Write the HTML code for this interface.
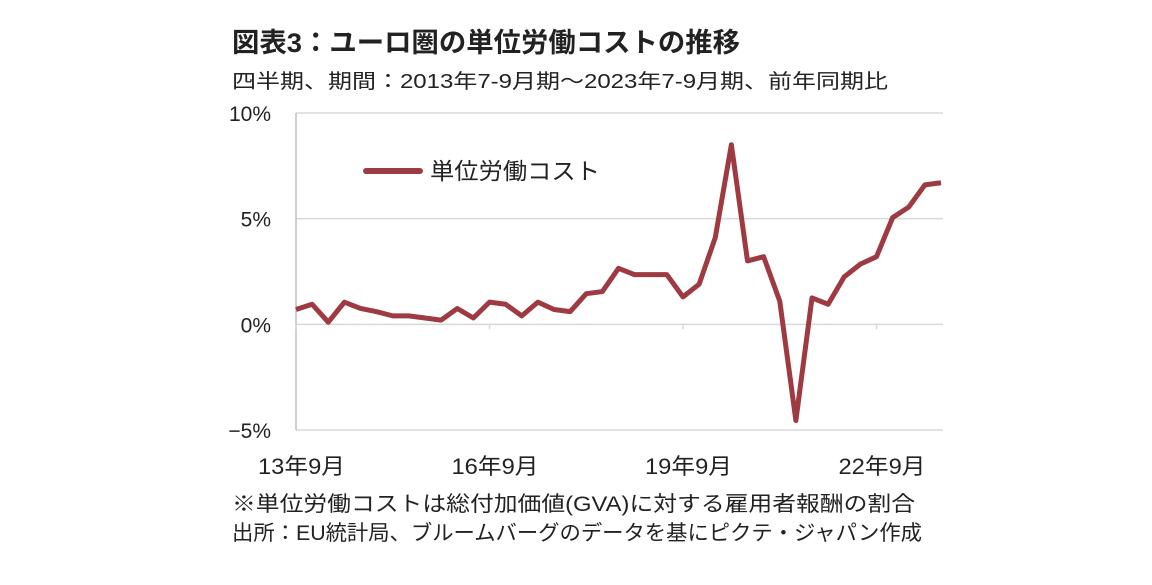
<!DOCTYPE html>
<html><head><meta charset="utf-8"><style>
body{margin:0;background:#fff;}
svg text{font-family:"Liberation Sans","Noto Sans CJK JP",sans-serif;fill:#222;}
</style></head><body>
<svg width="1152" height="580" viewBox="0 0 1152 580" xmlns="http://www.w3.org/2000/svg">
<text x="232" y="52" font-size="27" font-weight="bold" textLength="508" lengthAdjust="spacingAndGlyphs">図表3：ユーロ圏の単位労働コストの推移</text>
<text x="232" y="88" font-size="20" textLength="656" lengthAdjust="spacingAndGlyphs">四半期、期間：2013年7-9月期～2023年7-9月期、前年同期比</text>
<g id="grid"></g>
<g id="yaxis"></g>
<g id="xaxis"></g>
<polyline id="line" fill="none" stroke="#9e3a42" stroke-width="5" stroke-linejoin="round"/>
<line x1="366" y1="171" x2="420" y2="171" stroke="#9e3a42" stroke-width="6" stroke-linecap="round"/>
<text x="430" y="179" font-size="23" textLength="170" lengthAdjust="spacingAndGlyphs">単位労働コスト</text>
<text x="232" y="511" font-size="21" textLength="683" lengthAdjust="spacingAndGlyphs">※単位労働コストは総付加価値(GVA)に対する雇用者報酬の割合</text>
<text x="232" y="540" font-size="21" textLength="690" lengthAdjust="spacingAndGlyphs">出所：EU統計局、ブルームバーグのデータを基にピクテ・ジャパン作成</text>
</svg>
<script>
const values=[0.7,0.95,0.1,1.05,0.75,0.6,0.4,0.4,0.3,0.2,0.75,0.3,1.05,0.95,0.4,1.05,0.7,0.6,1.45,1.55,2.65,2.35,2.35,2.35,1.3,1.9,4.1,8.5,3.0,3.2,1.1,-4.55,1.25,0.95,2.25,2.85,3.2,5.05,5.55,6.6,6.7];
const yTicks=[10,5,0,-5];
const yTickLabels=["10%","5%","0%","−5%"];
const xTickIndex=[0,12,24,36];
const xTickLabels=["13年9月","16年9月","19年9月","22年9月"];
const NS="http://www.w3.org/2000/svg";
const X0=296,X1=941,Y10=113,Ym5=430;
const xs=i=>X0+(X1-X0)*i/(values.length-1);
const ys=v=>Y10+(10-v)*(Ym5-Y10)/15;
const grid=document.getElementById('grid'),ya=document.getElementById('yaxis'),xa=document.getElementById('xaxis');
function mk(tag,attrs,parent){const e=document.createElementNS(NS,tag);for(const k in attrs)e.setAttribute(k,attrs[k]);parent.appendChild(e);return e;}
yTicks.forEach((t,i)=>{
 const g=mk('line',{x1:X0,x2:943,y1:ys(t),y2:ys(t),stroke:'#d9d9d9','stroke-width':1.5},grid);
 
 
 const tx=mk('text',{x:271,y:ys(t)+8,'font-size':21,'text-anchor':'end'},ya);
 tx.textContent=yTickLabels[i];
 
 
});
const ax=mk('line',{x1:X0,x2:X0,y1:Y10,y2:Ym5,stroke:'#bfbfbf','stroke-width':1.5},grid);


xTickIndex.forEach((k,i)=>{
 const tk=mk('line',{x1:xs(k),x2:xs(k),y1:ys(0),y2:ys(0)+5,stroke:'#d9d9d9','stroke-width':1.5},xa);
 
 
 const tx=mk('text',{x:xs(k)-38,y:474,'font-size':22,textLength:87,lengthAdjust:'spacingAndGlyphs'},xa);
 tx.textContent=xTickLabels[i];
 
 
});
document.getElementById('line').setAttribute('points',values.map((v,i)=>xs(i)+','+ys(v)).join(' '));
</script>
</body></html>
